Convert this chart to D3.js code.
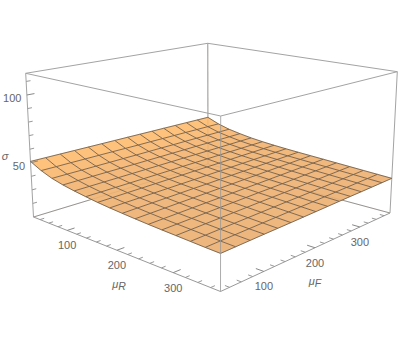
<!DOCTYPE html>
<html>
<head>
<meta charset="utf-8">
<script src="https://cdn.jsdelivr.net/npm/d3@7"></script>
<style>
  html, body { margin: 0; padding: 0; background: #fff; }
  text { font-family: "Liberation Sans", sans-serif; fill: #666; font-size: 11px; }
</style>
</head>
<body>
<div id="vis"></div>
<script>
const width = 399;
const height = 338;

// Cells drawn along each axis
const muRCells = 15;
const muFCells = 14;

// sigma, one row per step in muR, low muF to high muF
const sigmaValues = [
  [51.0, 51.0, 51.0, 51.0, 51.0, 51.0, 51.0, 51.0, 51.0, 51.0, 51.0, 51.0, 51.0, 51.0, 51.0, 51.0, 51.0],
  [47.0, 47.0, 47.1, 47.1, 47.1, 47.2, 47.2, 47.2, 47.2, 47.3, 47.3, 47.3, 47.4, 47.4, 47.4, 47.5, 47.5],
  [44.0, 44.1, 44.1, 44.2, 44.3, 44.3, 44.4, 44.4, 44.5, 44.6, 44.6, 44.7, 44.8, 44.8, 44.9, 44.9, 45.0],
  [42.0, 42.1, 42.2, 42.3, 42.4, 42.4, 42.5, 42.6, 42.7, 42.8, 42.9, 43.0, 43.1, 43.1, 43.2, 43.3, 43.4],
  [40.5, 40.6, 40.7, 40.8, 40.9, 41.0, 41.1, 41.2, 41.3, 41.4, 41.4, 41.5, 41.6, 41.7, 41.8, 41.9, 42.0],
  [39.3, 39.4, 39.5, 39.6, 39.7, 39.8, 39.9, 40.0, 40.2, 40.3, 40.4, 40.5, 40.6, 40.7, 40.8, 40.9, 41.0],
  [38.2, 38.3, 38.5, 38.6, 38.7, 38.9, 39.0, 39.1, 39.3, 39.4, 39.5, 39.6, 39.8, 39.9, 40.0, 40.2, 40.3],
  [37.3, 37.5, 37.6, 37.8, 37.9, 38.0, 38.2, 38.3, 38.5, 38.6, 38.8, 38.9, 39.1, 39.2, 39.4, 39.5, 39.7],
  [36.6, 36.8, 36.9, 37.1, 37.3, 37.4, 37.6, 37.7, 37.9, 38.1, 38.2, 38.4, 38.6, 38.7, 38.9, 39.0, 39.2],
  [36.0, 36.2, 36.4, 36.5, 36.7, 36.9, 37.1, 37.2, 37.4, 37.6, 37.8, 37.9, 38.1, 38.3, 38.5, 38.6, 38.8],
  [35.4, 35.6, 35.8, 36.0, 36.2, 36.3, 36.5, 36.7, 36.9, 37.1, 37.3, 37.5, 37.7, 37.8, 38.0, 38.2, 38.4],
  [34.9, 35.1, 35.3, 35.5, 35.7, 35.9, 36.1, 36.3, 36.5, 36.6, 36.8, 37.0, 37.2, 37.4, 37.6, 37.8, 38.0],
  [34.5, 34.7, 34.9, 35.1, 35.3, 35.5, 35.7, 35.9, 36.1, 36.2, 36.4, 36.6, 36.8, 37.0, 37.2, 37.4, 37.6],
  [34.1, 34.3, 34.5, 34.7, 34.9, 35.1, 35.3, 35.5, 35.7, 35.8, 36.0, 36.2, 36.4, 36.6, 36.8, 37.0, 37.2],
  [33.7, 33.9, 34.1, 34.3, 34.5, 34.7, 34.9, 35.1, 35.3, 35.4, 35.6, 35.8, 36.0, 36.2, 36.4, 36.6, 36.8],
  [33.3, 33.5, 33.7, 33.9, 34.1, 34.3, 34.5, 34.7, 34.9, 35.0, 35.2, 35.4, 35.6, 35.8, 36.0, 36.2, 36.4],
  [33.0, 33.2, 33.4, 33.6, 33.8, 33.9, 34.1, 34.3, 34.5, 34.7, 34.9, 35.1, 35.3, 35.4, 35.6, 35.8, 36.0]
];

const muRTicks = [100, 200, 300];
const muFTicks = [100, 200, 300];
const muMinorTicks = [40, 60, 80, 120, 140, 160, 180, 220, 240, 260, 280, 320, 340, 360];
const sigmaTicks = [50, 100];
const sigmaMinorTicks = [20, 30, 40, 60, 70, 80, 90, 110];

// Scales to the unit cube
const uScale = d3.scaleLinear().domain([25, 375]).range([0, 1]);
const vScale = d3.scaleLinear().domain([25, 375]).range([0, 1]);
const wScale = d3.scaleLinear().domain([10, 116]).range([0, 1]);
const shade = d3.scaleLinear().domain([33, 42, 51]).range(["#ecb67e", "#f4ba7d", "#ffc27c"]);

// Unit square to quad, corners in order (0,0) (1,0) (1,1) (0,1)
function quadMap(q) {
  const [p0, p1, p2, p3] = q;
  const dx1 = p1[0] - p2[0], dx2 = p3[0] - p2[0], sx = p0[0] - p1[0] + p2[0] - p3[0];
  const dy1 = p1[1] - p2[1], dy2 = p3[1] - p2[1], sy = p0[1] - p1[1] + p2[1] - p3[1];
  const det = dx1 * dy2 - dx2 * dy1;
  const g = (sx * dy2 - dx2 * sy) / det;
  const h = (dx1 * sy - sx * dy1) / det;
  const a = p1[0] - p0[0] + g * p1[0], b = p3[0] - p0[0] + h * p3[0];
  const d = p1[1] - p0[1] + g * p1[1], e = p3[1] - p0[1] + h * p3[1];
  return (u, v) => {
    const k = g * u + h * v + 1;
    return [(a * u + b * v + p0[0]) / k, (d * u + e * v + p0[1]) / k];
  };
}

const floorMap = quadMap([[33.5, 217], [220.5, 291.5], [390, 213], [208, 164]]);
const roofMap = quadMap([[25.7, 73.3], [220.7, 116], [397.3, 71.7], [207.7, 43.3]]);

function project(u, v, w) {
  const f = floorMap(u, v);
  const r = roofMap(u, v);
  return [f[0] + (r[0] - f[0]) * w, f[1] + (r[1] - f[1]) * w];
}

// Look up sigma in the table at a spot on the unit square
function sigmaAt(u, v) {
  const x = u * (sigmaValues.length - 1);
  const y = v * (sigmaValues[0].length - 1);
  const i = Math.min(Math.floor(x), sigmaValues.length - 2);
  const j = Math.min(Math.floor(y), sigmaValues[0].length - 2);
  const fx = x - i, fy = y - j;
  const top = sigmaValues[i][j] * (1 - fy) + sigmaValues[i][j + 1] * fy;
  const bot = sigmaValues[i + 1][j] * (1 - fy) + sigmaValues[i + 1][j + 1] * fy;
  return top * (1 - fx) + bot * fx;
}

const uLines = d3.range(0, muRCells + 1).map((i) => i / muRCells);
const vLines = d3.range(0, muFCells + 1).map((j) => j / muFCells);

const svg = d3.select("#vis").append("svg").attr("width", width).attr("height", height);
const line = d3.line();

function edge(g, a, b, stroke, sw, op) {
  g.append("path")
    .attr("d", line([project(...a), project(...b)]))
    .attr("fill", "none")
    .attr("stroke", stroke)
    .attr("stroke-width", sw)
    .attr("opacity", op);
}

// Box edges behind the surface
const back = svg.append("g");
edge(back, [0, 0, 0], [0, 1, 0], "#999", 1, 1);
edge(back, [0, 1, 0], [1, 1, 0], "#999", 1, 1);
edge(back, [0, 1, 0], [0, 1, 1], "#bbb", 1.4, 1);
edge(back, [0, 0, 1], [0, 1, 1], "#a3a3a3", 1, 1);
edge(back, [0, 1, 1], [1, 1, 1], "#a3a3a3", 1, 1);
edge(back, [0, 0, 0], [0, 0, 1], "#a3a3a3", 1, 1);
edge(back, [1, 1, 0], [1, 1, 1], "#a3a3a3", 1, 1);

// Surface cells
const pt = (u, v) => project(u, v, wScale(sigmaAt(u, v)));
const cells = [];
uLines.slice(0, -1).forEach((u, i) => {
  vLines.slice(0, -1).forEach((v, j) => {
    cells.push({ u0: u, u1: uLines[i + 1], v0: v, v1: vLines[j + 1] });
  });
});
svg.append("g")
  .selectAll("path")
  .data(cells)
  .enter()
  .append("path")
  .attr("d", (d) => line([pt(d.u0, d.v0), pt(d.u1, d.v0), pt(d.u1, d.v1), pt(d.u0, d.v1)]) + "Z")
  .attr("fill", (d) => shade(sigmaAt(d.u0, d.v0)))
  .attr("stroke", (d) => shade(sigmaAt(d.u0, d.v0)))
  .attr("stroke-width", 0.5);

// Mesh lines
const meshG = svg.append("g").attr("fill", "none").attr("stroke", "#5e5042").attr("stroke-width", 0.9).attr("opacity", 0.85);
uLines.forEach((u) => {
  meshG.append("path").attr("d", line(vLines.map((v) => pt(u, v))));
});
vLines.forEach((v) => {
  meshG.append("path").attr("d", line(uLines.map((u) => pt(u, v))));
});

// Hidden edges showing faintly through, then the front box edges
const front = svg.append("g");
edge(front, [0, 0, 0], [0, 1, 0], "#8a6a4a", 1, 0.12);
edge(front, [0, 1, 0], [1, 1, 0], "#8a6a4a", 1, 0.12);
edge(front, [0, 1, 0], [0, 1, 1], "#8a6a4a", 1, 0.15);
edge(front, [1, 0, 0], [1, 0, 1], "#999", 1, 0.8);
edge(front, [0, 0, 1], [1, 0, 1], "#a3a3a3", 1, 1);
edge(front, [1, 0, 1], [1, 1, 1], "#a3a3a3", 1, 1);
edge(front, [0, 0, 0], [1, 0, 0], "#999", 1, 1);
edge(front, [1, 0, 0], [1, 1, 0], "#999", 1, 1);

// Ticks
const tickG = svg.append("g");
muRTicks.forEach((t) => edge(tickG, [uScale(t), 0, 0], [uScale(t), 0.035, 0], "#888", 1, 1));
muFTicks.forEach((t) => edge(tickG, [1, vScale(t), 0], [0.965, vScale(t), 0], "#888", 1, 1));
muMinorTicks.forEach((t) => {
  edge(tickG, [uScale(t), 0, 0], [uScale(t), 0.02, 0], "#999", 1, 1);
  edge(tickG, [1, vScale(t), 0], [0.98, vScale(t), 0], "#999", 1, 1);
});
sigmaTicks.forEach((t) => edge(tickG, [0, 0, wScale(t)], [0, 0.035, wScale(t)], "#888", 1, 1));
sigmaMinorTicks.forEach((t) => edge(tickG, [0, 0, wScale(t)], [0, 0.02, wScale(t)], "#999", 1, 1));

// Tick labels
const labels = svg.append("g").attr("text-anchor", "middle");
muRTicks.forEach((t) => {
  const p = project(uScale(t), 0, 0);
  labels.append("text").attr("x", p[0]).attr("y", p[1] + 19).text(t);
});
muFTicks.forEach((t) => {
  const p = project(1, vScale(t), 0);
  labels.append("text").attr("x", p[0]).attr("y", p[1] + 19).text(t);
});
sigmaTicks.forEach((t) => {
  const p = project(0, 0, wScale(t));
  labels.append("text").attr("x", p[0] - 5.5).attr("y", p[1] + 7).attr("text-anchor", "end").text(t);
});

// Axis labels
function muLabel(x, y, sub) {
  const t = svg.append("text").attr("x", x).attr("y", y).attr("text-anchor", "middle").style("font-style", "italic");
  t.append("tspan").text("\u03bc");
  t.append("tspan").attr("dy", 2).attr("font-size", 10.5).text(sub);
}
muLabel(119, 288, "R");
muLabel(315, 285, "F");
svg.append("text").attr("x", 5).attr("y", 160).attr("text-anchor", "middle").style("font-style", "italic").text("\u03c3");
</script>
</body>
</html>
